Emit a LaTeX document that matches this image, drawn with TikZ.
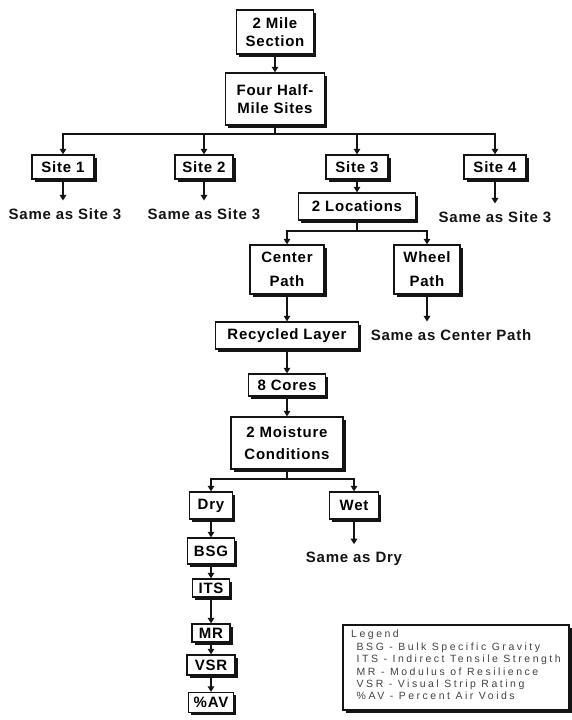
\documentclass[tikz,border=0pt]{standalone}
\usepackage{fontspec}
\newfontfamily\boxfont[LetterSpace=5]{Liberation Sans}
\newfontfamily\legendfont[LetterSpace=24]{Liberation Sans}
\newcommand\legendtype{\legendfont\fontsize{10.5}{12.4}\selectfont\setlength{\spaceskip}{5.5pt plus 1pt}}
\usepackage{tikz}
\usetikzlibrary{arrows.meta,shadows}
\definecolor{INK}{RGB}{20,20,20}

\tikzset{
  box/.style={draw=INK, fill=white, line width=1.3pt, inner sep=0pt, align=center,
    font=\boxfont\bfseries\fontsize{15}{18}\selectfont,
    drop shadow={shadow xshift=2.8pt, shadow yshift=-2.8pt, fill=INK, opacity=1}},
  note/.style={inner sep=0pt, outer sep=8pt, text=INK,
    font=\boxfont\bfseries\fontsize{15}{18}\selectfont},
  link/.style={draw=INK, line width=1.5pt},
  arr/.style={link, -{Triangle[length=5.5pt,width=6.5pt]}},
}

\begin{document}
\begin{tikzpicture}[x=1pt,y=-1pt]
  \useasboundingbox[fill=white] (0,0) rectangle (572,720);

  % Section and its four sites
  \node[box, minimum width=77, minimum height=44] (sec) at (275,32) {2 Mile\\Section};
  \node[box, minimum width=99, minimum height=52] (half) at (275,99) {Four Half-\\Mile Sites};
  \draw[arr] (sec.south) -- (half.north);

  \node[box, minimum width=62, minimum height=24] (s1) at (63,167) {Site 1};
  \node[box, minimum width=58, minimum height=24] (s2) at (204,167) {Site 2};
  \node[box, minimum width=62, minimum height=24] (s3) at (357,167) {Site 3};
  \node[box, minimum width=62, minimum height=24] (s4) at (495,167) {Site 4};

  \coordinate (j1) at (275,134);
  \draw[link] (half.south) -- (j1);
  \draw[arr] (j1) -| (s1.north);
  \draw[arr] (j1) -| (s2.north);
  \draw[arr] (j1) -| (s3.north);
  \draw[arr] (j1) -| (s4.north);

  % Sites 1, 2 and 4 repeat site 3
  \node[note] (t1) at (65,214) {Same as Site 3};
  \node[note] (t2) at (204,214) {Same as Site 3};
  \node[note] (t4) at (495,217) {Same as Site 3};
  \draw[arr] (s1.south) -- (s1.south |- t1.north);
  \draw[arr] (s2.south) -- (t2.north);
  \draw[arr] (s4.south) -- (t4.north);

  % Locations within site 3
  \node[box, minimum width=117, minimum height=27] (loc) at (357,206.5) {2 Locations};
  \draw[arr] (s3.south) -- (loc.north);

  \node[box, minimum width=74, minimum height=49] (cen) at (287,269.5) {Center\\[6pt]Path};
  \node[box, minimum width=66, minimum height=49] (whe) at (427,269.5) {Wheel\\[6pt]Path};
  \coordinate (j2) at (357,231);
  \draw[link] (loc.south) -- (j2);
  \draw[arr] (j2) -| (cen.north);
  \draw[arr] (j2) -| (whe.north);

  \node[note] (t5) at (451,335) {Same as Center Path};
  \draw[arr] (whe.south) -- (whe.south |- t5.north);

  % Center path down to the cores
  \node[box, minimum width=143, minimum height=27] (rec) at (287,335.5) {Recycled Layer};
  \node[box, minimum width=77, minimum height=22] (cor) at (287,385) {8 Cores};
  \node[box, minimum width=112, minimum height=52] (moi) at (287,443) {2 Moisture\\[4pt]Conditions};
  \draw[arr] (cen.south) -- (rec.north);
  \draw[arr] (rec.south) -- (cor.north);
  \draw[arr] (cor.south) -- (moi.north);

  \node[box, minimum width=43, minimum height=27] (dry) at (211,505.5) {Dry};
  \node[box, minimum width=49, minimum height=27] (wet) at (354,505.5) {Wet};
  \coordinate (j3) at (287,479);
  \draw[link] (moi.south) -- (j3);
  \draw[arr] (j3) -| (dry.north);
  \draw[arr] (j3) -| (wet.north);

  \node[note] (t6) at (354,559) {Same as Dry};
  \draw[arr] (wet.south) -- (t6.north);

  % Tests on the dry cores
  \node[box, minimum width=47, minimum height=26] (bsg) at (211,551) {BSG};
  \node[box, minimum width=37, minimum height=18] (its) at (211,588) {ITS};
  \node[box, minimum width=38, minimum height=18] (mr) at (211,633) {MR};
  \node[box, minimum width=48, minimum height=20] (vsr) at (211,665) {VSR};
  \node[box, minimum width=45, minimum height=20] (av) at (211,702.5) {\%AV};
  \draw[arr] (dry.south) -- (bsg.north);
  \draw[arr] (bsg.south) -- (its.north);
  \draw[arr] (its.south) -- (mr.north);
  \draw[arr] (mr.south) -- (vsr.north);
  \draw[arr] (vsr.south) -- (av.north);

  % Legend
  \node[box, minimum width=226, minimum height=85] (leg) at (456,667.5) {};
  \node[anchor=north west, inner sep=0pt, text=INK!80, align=left, font=\legendtype]
    (legtext) at (351,630)
    {Legend\\
     \ BSG - Bulk Specific Gravity\\
     \ ITS - Indirect Tensile Strength\\
     \ MR - Modulus of Resilience\\
     \ VSR - Visual Strip Rating\\
     \ \%AV - Percent Air Voids};
\end{tikzpicture}
\end{document}
